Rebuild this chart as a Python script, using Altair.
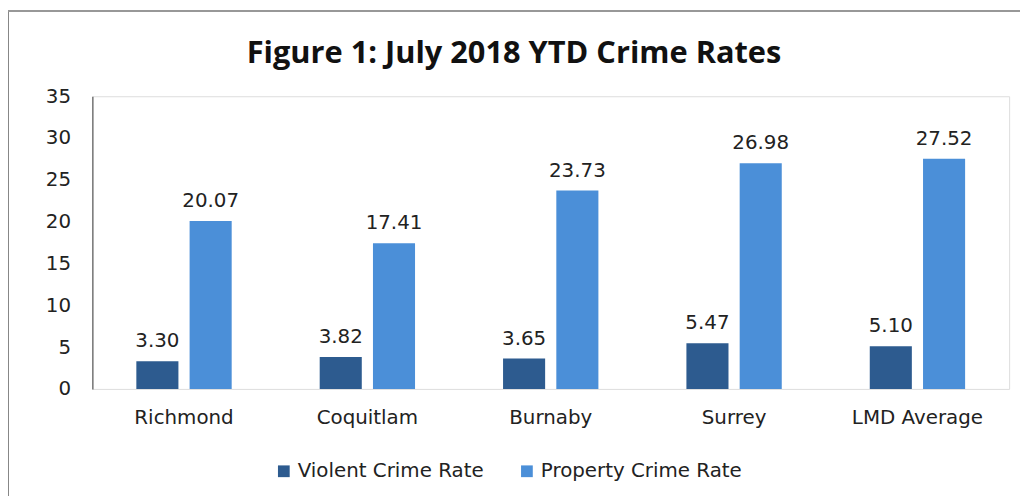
import altair as alt
import pandas as pd

cities = ["Richmond", "Coquitlam", "Burnaby", "Surrey", "LMD Average"]
violent = [3.30, 3.82, 3.65, 5.47, 5.10]
property_ = [20.07, 17.41, 23.73, 26.98, 27.52]
series = ["Violent Crime Rate", "Property Crime Rate"]
colors = ["#2d5b8f", "#4b8fd8"]
title_text = "Figure 1: July 2018 YTD Crime Rates"

rows = []
for c, v, p in zip(cities, violent, property_):
    rows.append({"city": c, "series": series[0], "value": v, "label": f"{v:.2f}"})
    rows.append({"city": c, "series": series[1], "value": p, "label": f"{p:.2f}"})
df = pd.DataFrame(rows)

x = alt.X("city:N", sort=cities, title=None,
          scale=alt.Scale(paddingInner=0.48, paddingOuter=0.24),
          axis=alt.Axis(labelAngle=0, domain=False, ticks=False, labelPadding=19,
                        labelFont="DejaVu Sans", labelFontSize=20, labelColor="#222",
                        labelLimit=0))
xo = alt.XOffset("series:N", sort=series, scale=alt.Scale(paddingInner=0.21))
y = alt.Y("value:Q", title=None,
          scale=alt.Scale(domain=[0, 35], nice=False),
          axis=alt.Axis(values=[0, 5, 10, 15, 20, 25, 30, 35], grid=False, ticks=False,
                        domainColor="#777", domainWidth=1.5, labelPadding=22,
                        labelFont="DejaVu Sans", labelFontSize=20, labelColor="#222"))

base = alt.Chart(df)
bars = base.mark_bar().encode(
    x=x, xOffset=xo, y=y,
    color=alt.Color("series:N", sort=series,
                    scale=alt.Scale(domain=series, range=colors),
                    legend=alt.Legend(title=None, orient="none", direction="horizontal",
                                      legendX=183, legendY=368, symbolType="square",
                                      symbolSize=140, symbolStrokeWidth=0,
                                      labelFont="DejaVu Sans", labelFontSize=20,
                                      labelColor="#222", labelLimit=0,
                                      columnPadding=33)),
)
labels = base.mark_text(baseline="bottom", dy=-10, font="DejaVu Sans", fontSize=20,
                        color="#222").encode(
    x=x, xOffset=xo, y=y, text="label:N")

title = alt.Chart(pd.DataFrame({"t": [title_text]})).mark_text(
    font="Open Sans", fontSize=31, fontWeight="bold", color="#111",
    align="center", baseline="alphabetic").encode(
    x=alt.value(425), y=alt.value(-33), text="t:N")

border_left = alt.Chart(df).mark_rule(color="#888", strokeWidth=2).encode(
    x=alt.value(-85), y=alt.value(-86), y2=alt.value(420))
border_top = alt.Chart(df).mark_rule(color="#999", strokeWidth=1.5).encode(
    x=alt.value(-85), x2=alt.value(935), y=alt.value(-86))

chart = alt.layer(bars, labels, title, border_left, border_top).properties(
    width=924, height=295,
    autosize=alt.AutoSizeParams(type="none"),
    padding={"left": 85, "top": 87, "right": 15, "bottom": 106},
).configure_view(stroke="#dddddd", strokeWidth=1).configure(background="white")

chart.save("out.html", embed_options={"renderer": "svg", "actions": False})
